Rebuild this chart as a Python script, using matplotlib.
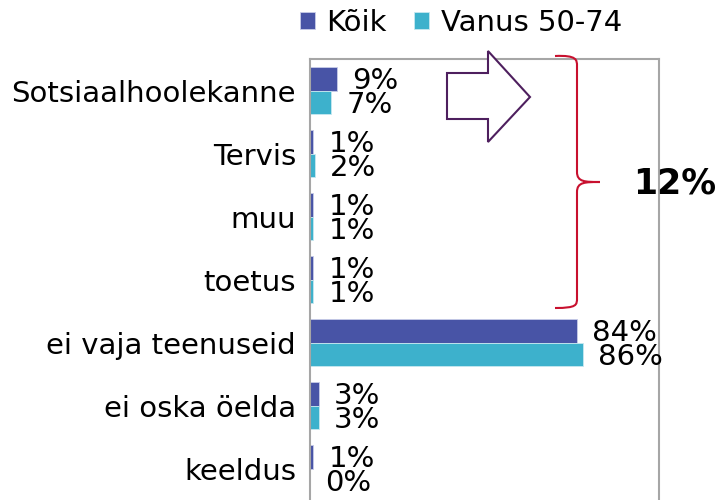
import matplotlib
matplotlib.use("Agg")
import matplotlib.pyplot as plt
import numpy as np
from matplotlib.patches import PathPatch, Polygon
from matplotlib.path import Path

W, H = 725, 500

categories = ["Sotsiaalhoolekanne", "Tervis", "muu", "toetus",
              "ei vaja teenuseid", "ei oska öelda", "keeldus"]
koik = [8.6, 1.0, 1.0, 1.0, 84.0, 2.8, 1.0]
vanus = [6.6, 1.6, 1.0, 1.0, 86.0, 2.8, 0.0]
koik_labels = ["9%", "1%", "1%", "1%", "84%", "3%", "1%"]
vanus_labels = ["7%", "2%", "1%", "1%", "86%", "3%", "0%"]
series_names = ["Kõik", "Vanus 50-74"]
brace_label = "12%"

C_KOIK = "#4854A6"
C_VANUS = "#3DB1CC"
GRID = "#A6A6A6"
FS = 21

plt.rcParams["font.family"] = ["DejaVu Sans"]

fig = plt.figure(figsize=(W / 100, H / 100), dpi=100)


def px(x, y):
    return (x / W, 1 - y / H)


ax = fig.add_axes([310 / W, 0.0, (659 - 310) / W, (500 - 59) / H])

y = np.arange(len(categories))
bh = 0.38
b1 = ax.barh(y - bh / 2, koik, height=bh, color=C_KOIK, edgecolor="#C8CCE8", linewidth=0.6, label=series_names[0])
b2 = ax.barh(y + bh / 2, vanus, height=bh, color=C_VANUS, edgecolor="#C8E8F0", linewidth=0.6, label=series_names[1])

for rect, lab in zip(b1, koik_labels):
    ax.annotate(lab, (rect.get_width(), rect.get_y() + rect.get_height() / 2),
                xytext=(11, -2), textcoords="offset points", va="center", ha="left", fontsize=FS)
for rect, lab in zip(b2, vanus_labels):
    ax.annotate(lab, (rect.get_width(), rect.get_y() + rect.get_height() / 2),
                xytext=(11, -2), textcoords="offset points", va="center", ha="left", fontsize=FS)

ax.set_xlim(0, 110)
ax.set_ylim(len(categories) - 0.5, -0.5)
ax.set_yticks(y)
ax.set_yticklabels(categories, fontsize=FS)
ax.tick_params(axis="y", length=0, pad=10)
ax.set_xticks([])
for side in ["left", "top", "right"]:
    ax.spines[side].set_color(GRID)
    ax.spines[side].set_linewidth(1.5)
ax.spines["bottom"].set_visible(False)

fig.legend(handles=[b1, b2], labels=series_names, loc="center",
           bbox_to_anchor=px(461, 23), ncol=2, frameon=False, fontsize=FS,
           handlelength=0.5, handleheight=0.5, handletextpad=0.4, columnspacing=0.95)

# block arrow
arrow_pts = [(447, 73), (488, 73), (488, 51), (530, 97), (488, 142), (488, 119), (447, 119)]
fig.patches.append(Polygon([px(*p) for p in arrow_pts], closed=True, facecolor="white",
                           edgecolor="#4E1F5E", linewidth=1.5, transform=fig.transFigure))

# curly brace
verts = [(555, 56), (577, 55), (577, 60), (577, 66),
         (577, 172),
         (577, 182), (585, 182), (600, 182),
         (585, 182), (577, 182), (577, 192),
         (577, 298),
         (577, 305), (577, 308), (555, 308)]
codes = [Path.MOVETO, Path.CURVE4, Path.CURVE4, Path.CURVE4,
         Path.LINETO,
         Path.CURVE4, Path.CURVE4, Path.CURVE4,
         Path.CURVE4, Path.CURVE4, Path.CURVE4,
         Path.LINETO,
         Path.CURVE4, Path.CURVE4, Path.CURVE4]
fig.patches.append(PathPatch(Path([px(*v) for v in verts], codes), facecolor="none",
                             edgecolor="#C8102E", linewidth=1.5, transform=fig.transFigure))

fig.text(*px(633, 184), brace_label, fontsize=25, fontweight="bold", ha="left", va="center")

fig.savefig("out.png", dpi=100)
